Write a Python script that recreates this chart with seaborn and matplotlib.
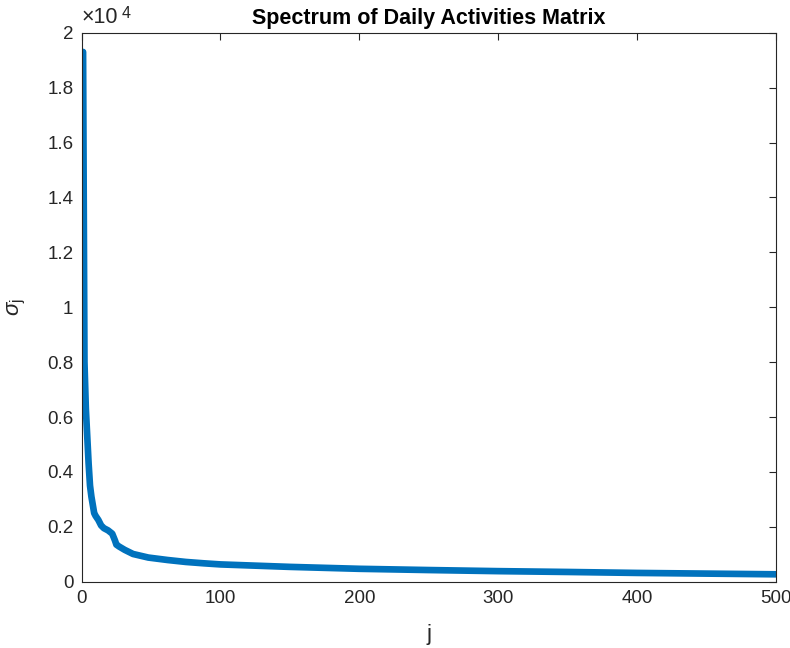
import pandas as pd
import matplotlib
matplotlib.use('Agg')
import matplotlib.pyplot as plt
import seaborn as sns
from matplotlib.ticker import FuncFormatter

sns.set_style('white')
plt.rcParams['font.family'] = ['Liberation Sans', 'DejaVu Sans']
plt.rcParams['mathtext.fontset'] = 'custom'
plt.rcParams['mathtext.rm'] = 'Liberation Sans'
plt.rcParams['mathtext.it'] = 'Liberation Sans:italic'

# singular values
j_index = [1, 2, 3, 4, 5, 6, 7, 8, 9, 10, 12, 14, 16, 19, 22, 24, 25, 27, 31,
           37, 48, 62, 75, 88, 100, 150, 200, 250, 300, 350, 400, 450, 500]
sigma = [19300, 8000, 6300, 5300, 4300, 3500, 3100, 2800, 2500, 2400, 2250,
         2050, 1950, 1870, 1750, 1500, 1350, 1280, 1160, 1010, 880, 790, 720,
         670, 630, 540, 470, 425, 385, 355, 320, 295, 270]

x_ticks = [0, 100, 200, 300, 400, 500]
y_ticks = [0, 2000, 4000, 6000, 8000, 10000, 12000, 14000, 16000, 18000, 20000]

df = pd.DataFrame({'j': j_index, 'sigma': sigma})

fig = plt.figure(figsize=(7.9, 6.48), dpi=100)
ax = fig.add_axes([0.1034, 0.1023, 0.8785, 0.8472])

sns.lineplot(data=df, x='j', y='sigma', ax=ax, color='#0072BD', linewidth=4.8)

ax.set_xlim(0, 500)
ax.set_ylim(0, 20000)
ax.set_xticks(x_ticks)
ax.set_yticks(y_ticks)
ax.yaxis.set_major_formatter(FuncFormatter(lambda v, p: f"{v / 1e4:g}"))

dark = '#262626'
for s in ax.spines.values():
    s.set_color(dark)
    s.set_linewidth(0.8)
ax.tick_params(direction='in', length=5, width=0.8, colors=dark,
               labelsize=13.5, top=True, right=True, pad=6)
for lab in ax.get_xticklabels() + ax.get_yticklabels():
    lab.set_color(dark)

ax.set_title("Spectrum of Daily Activities Matrix", fontsize=15.5,
             fontweight='bold', pad=6, color='black')
ax.set_xlabel("j", fontsize=16, color=dark, labelpad=12)
ax.set_ylabel(r"$\sigma_{\mathrm{j}}$", fontsize=16, color=dark, labelpad=14)
# MATLAB-style exponent label above the y axis
ax.text(0.0, 1.008, "\u00d710", transform=ax.transAxes,
        fontsize=15.5, color=dark, ha='left', va='bottom')
ax.text(0.058, 1.022, "4", transform=ax.transAxes,
        fontsize=11.5, color=dark, ha='left', va='bottom')

fig.savefig("out.png", dpi=100)
